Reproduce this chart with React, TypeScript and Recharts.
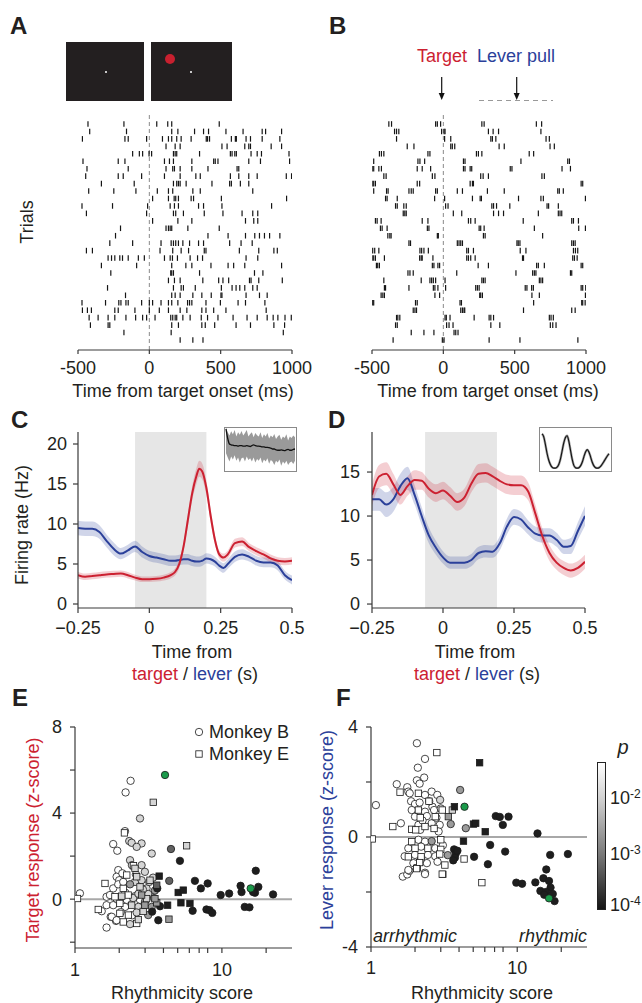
import React from "react";
import {
  Area,
  ComposedChart,
  Line,
  ReferenceArea,
  ReferenceLine,
  Scatter,
  ScatterChart,
  XAxis,
  YAxis,
} from "recharts";

const FONT = '"Liberation Sans", Arial, Helvetica, sans-serif';
const INK = "#231f20";
const RED = "#cc2131";
const BLUE = "#2b409a";
const AXIS = "#3a3a3a";

// ---- rasters (spike times in ms, one list per trial) ----
const rasterTicks = [-500, 0, 500, 1000];

const rasterA: number[][] = [
  [-430, -178, 52, 129, 157, 490],
  [-418, -160, 157, 200, 317, 380, 415, 537, 657, 791, 815, 927],
  [-469, -171, -148, -19, 92, 134, 157, 192, 223, 293, 399, 408, 422, 575, 603, 610, 678, 709, 791, 915],
  [117, 181, 216, 509, 545, 669, 697, 709, 854, 927],
  [-117, -70, -47, -2, 16, 169, 181, 192, 352, 568, 580, 599, 610, 713, 756, 786, 979],
  [-465, -218, -171, 106, 141, 169, 298, 451, 462, 481, 697, 779, 983],
  [-437, -148, 117, 164, 176, 216, 298, 411, 615, 627],
  [-446, -218, -183, -54, 106, 216, 326, 357, 568, 627, 697, 756, 960, 997],
  [-336, -106, 169, 192, 204, 216, 258, 439, 563, 575, 638, 697],
  [-425, -249, -94, 56, 134, 164, 305, 357, 725],
  [23, 134, 174, 185, 204, 293, 310, 505, 962],
  [-472, -258, -12, 146, 176, 204, 345, 380, 509, 857],
  [-441, -19, 169, 185, 239, 385, 516, 650, 725, 760],
  [23, 200, 298, 674, 732, 760],
  [-202, 117, 134, 146, 157, 270, 490],
  [-237, 411, 552, 674, 739, 772, 807, 843, 915],
  [-277, -117, 82, 153, 169, 185, 204, 235, 282, 345, 380, 563, 643, 721],
  [-441, -399, 75, 164, 223, 275, 385, 397, 631, 767, 873, 897],
  [-289, -265, -242, -207, -188, -148, -77, -35, 106, 146, 162, 197, 286, 338, 373, 678, 760],
  [-336, -89, 157, 256, 298, 432, 552, 591, 669, 927],
  [-270, 150, 157, 169, 352, 737, 796],
  [134, 176, 216, 375, 486, 516, 556, 702, 713, 767, 932],
  [-293, 169, 223, 239, 322, 505, 580, 608, 634, 669, 725, 756],
  [-167, 157, 181, 216, 305, 368, 434, 502, 509, 678, 772, 826],
  [-472, -307, -214, -199, -164, -148, -54, 0, 23, 82, 134, 157, 200, 268, 282, 298, 397, 498, 622, 674, 810],
  [-469, -434, -406, -242, -218, -101, 0, 70, 134, 216, 263, 368, 397, 451, 537, 819],
  [-422, -359, -289, -242, -164, -96, -47, -19, 40, 150, 164, 181, 192, 235, 286, 364, 408, 481, 587, 685, 756, 826, 868, 901, 951, 995],
  [-413, -289, -277, 157, 204, 368, 392, 458, 608, 709, 873, 948],
  [-178, 153, 939],
  [216, 305, 376],
];

const rasterB: number[][] = [
  [-382, -363, -54, -42, -19, 270, 286, 652, 689],
  [-342, -328, -312, -12, 5, 12, 316, 349, 387, 684],
  [-328, 9, 52, 333, 344, 368, 720, 743],
  [-253, -206, 52, 63, 80, 391, 427, 748, 778],
  [-448, -434, -417, -108, -94, 232, 246, 270, 602, 633],
  [-488, -178, -164, -131, 141, 152, 544, 872, 884],
  [-499, -488, -452, -434, -183, -148, -89, 141, 152, 188, 199, 469, 481, 832, 891],
  [-417, -401, -77, -59, 262, 279, 316, 691, 708],
  [-499, -488, -476, -183, -166, 188, 204, 211, 966, 977],
  [-488, -398, -387, -241, -225, -211, -54, -42, 98, 134, 309, 427, 802, 813, 841],
  [-405, -394, -323, -61, 9, 204, 258, 267, 527, 684, 701, 996],
  [-335, -323, -277, -260, 16, 33, 340, 352, 373, 466, 727, 738, 806],
  [-281, -270, -260, 70, 129, 352, 387, 422, 666, 806, 818, 830],
  [-476, -464, -436, -148, -108, 176, 192, 223, 560, 900, 912, 947],
  [-441, -429, -394, -112, -101, 251, 262, 286, 638, 949, 996],
  [-389, -375, -366, -42, -35, 281, 293, 696],
  [-241, -230, 98, 110, 122, 134, 516, 525, 537, 900, 912, 924],
  [-495, -481, -452, -164, -152, -136, -105, 164, 176, 211, 539, 579, 912, 926, 942],
  [-499, -488, -476, -413, -166, -155, -148, -73, 164, 176, 192, 223, 555, 562, 907, 919, 938],
  [-469, -460, -448, -77, -66, -38, -26, 244, 316, 654, 666, 708, 966, 977],
  [-248, -234, -211, 94, 509, 626, 638, 649, 891, 900],
  [-417, -155, -94, -82, -70, -54, 12, 270, 281, 293, 673, 684, 696],
  [-413, -405, -241, -70, -59, -38, 16, 227, 239, 251, 574, 586, 619, 631, 966, 977, 998],
  [-436, -424, -413, -59, -26, 255, 262, 274, 621, 673, 996],
  [-495, -488, -195, -183, 117, 127, 633, 970, 977, 994],
  [-211, -199, -188, 122, 134, 145, 150, 562, 900, 924],
  [-328, -319, -305, 12, 21, 47, 216, 321, 333, 352, 743, 755, 771],
  [-335, -323, 23, 40, 68, 333, 396, 750, 767, 790],
  [-225, -136, -66, 75, 87, 103],
  [-352, -7, 5, 321, 537, 943],
];

// ---- PSTHs (firing rate, Hz) ----
const cTime = [-0.25, -0.225, -0.2, -0.175, -0.15, -0.125, -0.1, -0.075, -0.05, -0.025, 0, 0.025, 0.05, 0.075,
  0.09, 0.105, 0.12, 0.135, 0.15, 0.165, 0.175, 0.185, 0.2, 0.215, 0.23, 0.245, 0.26,
  0.275, 0.3, 0.325, 0.35, 0.375, 0.4, 0.425, 0.45, 0.475, 0.5];
const cTarget = [3.6, 3.4, 3.5, 3.6, 3.7, 3.75, 3.8, 3.6, 3.3, 3.1, 3.1, 3.15, 3.3, 3.6,
  4.0, 5.0, 7.2, 10.5, 13.8, 16.0, 16.9, 16.6, 14.5, 11.0, 8.0, 6.2, 5.8,
  6.2, 7.6, 7.8, 7.1, 6.6, 6.2, 5.7, 5.4, 5.3, 5.4];
const cTargetSem = [0.4, 0.4, 0.4, 0.4, 0.4, 0.4, 0.4, 0.4, 0.35, 0.35, 0.35, 0.35, 0.35, 0.4,
  0.45, 0.5, 0.6, 0.8, 0.9, 1.0, 1.0, 1.0, 0.9, 0.8, 0.6, 0.5, 0.5,
  0.5, 0.55, 0.55, 0.5, 0.5, 0.5, 0.5, 0.45, 0.45, 0.45];
const cLever = [9.5, 9.4, 9.4, 9.0, 7.9, 6.9, 6.3, 6.7, 7.2, 6.5, 6.0, 5.8, 5.6, 5.4,
  5.4, 5.5, 5.6, 5.6, 5.4, 5.3, 5.3, 5.4, 5.7, 5.6, 5.3, 4.8, 4.5,
  5.0, 5.9, 6.2, 5.9, 5.4, 5.2, 5.2, 4.8, 3.6, 3.0];
const cLeverSem = [0.9, 0.9, 0.9, 0.85, 0.8, 0.8, 0.7, 0.7, 0.7, 0.7, 0.65, 0.65, 0.65, 0.65,
  0.65, 0.65, 0.65, 0.65, 0.65, 0.65, 0.65, 0.65, 0.65, 0.65, 0.6, 0.6, 0.6,
  0.6, 0.65, 0.65, 0.6, 0.6, 0.6, 0.6, 0.6, 0.55, 0.55];

const dTime = [-0.25, -0.225, -0.2, -0.175, -0.15, -0.125, -0.1, -0.075, -0.05, -0.025, 0, 0.025, 0.05, 0.075, 0.1,
  0.125, 0.15, 0.175, 0.2, 0.225, 0.25, 0.275, 0.3, 0.325, 0.35, 0.375, 0.4, 0.425, 0.45, 0.475, 0.5];
const dTarget = [12.4, 14.5, 14.8, 13.6, 12.4, 13.4, 14.1, 14.0, 13.1, 12.6, 12.9, 12.3, 11.6, 12.1, 13.7,
  14.8, 14.9, 14.5, 14.0, 13.6, 13.5, 13.5, 12.8, 10.3, 7.7, 5.8, 4.7, 4.1, 3.8, 4.1, 4.8];
const dTargetSem = [1.2, 1.3, 1.3, 1.2, 1.1, 1.1, 1.1, 1.0, 1.0, 1.0, 1.0, 1.0, 1.0, 1.0, 1.0,
  1.1, 1.1, 1.1, 1.1, 1.1, 1.1, 1.1, 1.0, 1.0, 0.9, 0.9, 0.8, 0.8, 0.8, 0.8, 0.8];
const dLever = [11.9, 11.9, 11.3, 11.9, 13.4, 14.3, 12.4, 10.0, 7.8, 6.4, 5.3, 4.7, 4.7, 4.7, 5.0,
  5.8, 6.0, 5.95, 6.9, 8.8, 9.9, 9.6, 8.7, 8.0, 7.8, 7.8, 7.3, 6.5, 6.6, 8.3, 10.0];
const dLeverSem = [1.3, 1.3, 1.4, 1.4, 1.4, 1.3, 1.1, 1.0, 0.9, 0.8, 0.7, 0.7, 0.7, 0.7, 0.7,
  0.7, 0.7, 0.7, 0.8, 0.9, 0.9, 0.9, 0.8, 0.8, 0.8, 0.8, 0.8, 0.8, 0.9, 1.0, 1.1];

// ---- insets (autocorrelograms, normalised) ----
const insetCMean = [0.98, 0.75, 0.62, 0.6, 0.59, 0.58, 0.58, 0.57, 0.58, 0.58, 0.57, 0.57, 0.58, 0.57,
  0.56, 0.58, 0.6, 0.58, 0.57, 0.57, 0.56, 0.55, 0.55, 0.54, 0.54, 0.53, 0.52, 0.5,
  0.5, 0.48, 0.47, 0.47, 0.48, 0.47, 0.46, 0.48, 0.49, 0.47, 0.47, 0.49, 0.5];
const insetCHigh = [1.0, 0.9, 0.82, 0.92, 0.85, 0.95, 0.8, 0.9, 0.84, 0.93, 0.82, 0.88, 0.95, 0.8,
  0.86, 0.9, 0.78, 0.88, 0.83, 0.8, 0.9, 0.76, 0.85, 0.8, 0.88, 0.75, 0.82, 0.78,
  0.86, 0.74, 0.8, 0.84, 0.72, 0.8, 0.76, 0.85, 0.7, 0.8, 0.76, 0.82, 0.78];
const insetCLow = [0.4, 0.3, 0.2, 0.32, 0.25, 0.35, 0.22, 0.3, 0.18, 0.28, 0.3, 0.2, 0.32, 0.24,
  0.28, 0.2, 0.3, 0.18, 0.26, 0.22, 0.3, 0.16, 0.25, 0.2, 0.28, 0.15, 0.24, 0.2,
  0.12, 0.22, 0.18, 0.25, 0.1, 0.2, 0.15, 0.22, 0.12, 0.18, 0.2, 0.14, 0.22];
const insetDMean = [0.78, 0.72, 0.55, 0.35, 0.2, 0.1, 0.04, 0.02, 0.02, 0.04, 0.1, 0.22, 0.4, 0.58,
  0.7, 0.74, 0.62, 0.42, 0.22, 0.08, 0.03, 0.02, 0.03, 0.07, 0.15, 0.27, 0.38, 0.43,
  0.38, 0.27, 0.15, 0.07, 0.03, 0.02, 0.03, 0.06, 0.11, 0.17, 0.23, 0.29, 0.34];

// ---- scatter: [rhythmicity score, z-score, log10 p] ----
const W = -1;
const L = -1.8;
const M = -2.5;
const Dk = -3.2;
const K = -4;

const eMonkeyB: [number, number, number][] = [
  [1.08, 0.27, W], [1.64, 0.11, W], [1.52, -0.56, W], [1.64, -1.32, W], [1.75, -0.82, W], [1.9, -1.01, W],
  [1.82, 2.56, W], [1.94, 2.25, W], [2.21, 4.96, W], [2.39, 5.5, W], [2.19, 3.16, W], [2.34, 2.7, L],
  [2.43, 2.62, L], [2.84, 2.59, L], [2.63, 2.43, L], [2.77, 3.75, L], [3.33, 2.12, L], [4.5, 2.33, Dk],
  [5.18, 1.78, K], [4.38, 0.85, Dk], [3.63, 0.5, K], [6.55, 0.85, K], [7.19, 0.5, K], [8.0, 0.73, K],
  [6.32, -0.54, K], [7.85, -0.48, K], [8.25, -0.51, K], [8.6, -0.64, K], [9.81, 0.19, K], [11.2, 0.26, K],
  [13.4, 0.62, K], [13.6, 0.33, K], [17.0, 1.32, K], [17.7, 0.57, K], [16.8, 0.3, K], [16.3, 0.33, K],
  [22.3, 0.22, K], [14.3, -0.36, K], [15.4, -0.38, K], [3.69, -0.98, K], [3.79, -0.33, K], [3.35, -0.58, K],
  [1.97, 1.35, W], [2.37, 1.81, L], [2.44, 1.58, L], [2.84, 1.58, L], [1.92, 1.04, W], [2.0, 0.88, W],
  [2.99, 1.27, L], [1.82, 0.5, W], [2.37, 0.69, M], [3.07, 0.5, L], [1.73, 0.19, W], [2.56, 0.14, L],
  [3.15, 0.24, L], [1.64, -0.28, W], [1.82, -0.28, W], [2.19, -0.36, W], [2.7, -0.36, L], [3.33, -0.36, M],
  [1.78, -0.82, W], [2.63, -0.62, L], [3.15, -0.74, M], [2.37, -1.16, L], [1.92, -0.98, W], [1.97, 0.69, W],
  [2.56, 0.8, L], [2.13, 0.8, W], [2.84, 0.88, L], [2.25, -0.03, W], [2.49, 0.05, L], [2.77, -0.03, W],
  [1.92, 0.02, W], [2.1, 1.2, W], [2.6, 1.15, L], [3.0, -0.1, M], [2.9, 0.45, L], [3.2, 0.8, L],
  [3.45, 0.05, L], [2.05, -0.6, W], [2.45, -0.75, W], [2.2, 0.3, W], [2.7, 0.25, L], [3.4, 1.0, L],
  [3.5, 0.4, M],
];
const eMonkeyE: [number, number, number][] = [
  [1.04, 0.03, W], [1.44, -0.48, W], [2.17, 3.08, W], [3.41, 4.5, L], [5.75, 2.48, L], [3.74, 1.07, K],
  [5.04, 0.31, K], [5.46, 0.42, K], [5.26, -0.17, K], [6.06, -0.2, K], [4.27, -0.28, K], [4.36, -0.93, M],
  [3.6, -0.17, M], [2.56, 1.43, L], [2.25, 1.12, W], [1.6, 0.73, W], [2.63, 1.04, L], [3.24, 0.88, L],
  [2.13, 0.5, W], [2.77, 0.57, L], [1.87, 0.11, W], [2.08, 0.14, L], [2.3, 0.19, W], [2.84, 0.19, M],
  [2.02, -0.2, W], [2.43, -0.28, L], [2.99, -0.28, M], [2.02, -0.66, W], [2.31, -0.74, W], [2.91, -0.57, L],
  [2.13, -1.06, W], [2.63, -1.13, W], [3.6, 0.65, Dk], [3.5, 0.02, M], [3.07, 0.02, L], [2.5, 1.55, W],
  [2.7, -0.95, L],
];
const eExample: [number, number][] = [[4.1, 5.77], [15.7, 0.5]];

const fMonkeyB: [number, number, number][] = [
  [1.08, 1.16, W], [2.06, 3.41, W], [2.34, 2.84, W], [2.09, 2.52, W], [2.31, 2.16, W], [2.06, 2.06, W],
  [2.15, 1.94, W], [1.5, 1.92, W], [1.77, 1.81, W], [1.8, 1.65, W], [1.6, 0.5, W], [4.07, 1.71, M],
  [3.51, 0.47, M], [4.45, 0.32, M], [7.13, 0.76, K], [7.6, 0.73, K], [8.72, 0.74, K], [7.97, 0.44, K],
  [13.76, 0.13, K], [6.53, -0.29, K], [5.07, -0.72, K], [6.3, -0.99, K], [8.27, -0.53, K], [16.8, -0.65, K],
  [22.2, -0.62, K], [15.8, -1.18, K], [9.85, -1.66, K], [10.8, -1.7, K], [13.3, -1.65, K], [15.1, -1.5, K],
  [16.5, -1.6, K], [16.9, -1.84, K], [14.4, -1.96, K], [15.7, -2.0, K], [17.5, -2.07, K], [18.0, -2.33, K],
  [15.3, -2.1, K], [1.65, -1.44, W], [1.77, -1.36, W], [1.83, -1.23, W], [2.34, -1.3, W], [3.7, -0.45, K],
  [3.8, -0.6, K], [3.75, -0.75, K], [3.9, -0.5, K], [3.65, -0.85, K], [3.35, -0.66, M],
  [1.84, 1.59, W], [2.34, 1.53, W], [2.6, 1.65, W], [2.84, 1.53, W], [2.97, 1.35, L], [1.88, 1.3, W],
  [2.0, 1.2, W], [2.15, 1.25, W], [2.63, 1.1, W], [1.9, 0.98, W], [2.34, 0.92, W], [2.7, 0.98, W],
  [3.0, 1.04, L], [2.0, 0.74, W], [2.41, 0.76, W], [2.11, 0.44, W], [2.6, 0.5, W], [2.95, 0.44, W],
  [2.17, 0.26, W], [2.11, -0.1, W], [2.34, -0.17, W], [2.6, -0.15, M], [1.8, -0.41, W], [2.2, -0.35, W],
  [2.75, -0.41, W], [2.0, -0.65, W], [2.45, -0.65, W], [2.75, -0.7, W], [1.95, -0.95, W], [2.41, -0.95, W],
  [2.85, -0.9, W], [1.8, -1.2, W], [2.34, -1.35, W], [2.5, 1.3, W], [2.25, 0.6, W], [2.8, 0.7, W],
  [1.7, -0.7, W], [2.2, -0.8, W], [3.1, -0.3, W], [2.9, 0.2, W],
];
const fMonkeyE: [number, number, number][] = [
  [1.02, -0.07, W], [2.82, 3.07, W], [1.58, 1.63, W], [1.41, 0.38, W], [5.53, 2.7, K], [3.72, 1.1, K],
  [3.6, 0.98, L], [3.38, 0.74, M], [5.02, 0.47, K], [5.2, 0.5, K], [6.04, 0.19, K], [4.29, -0.15, K],
  [4.33, -0.8, W], [5.73, -1.66, W], [3.1, -1.36, W], [2.07, -1.12, W], [2.11, 1.59, W], [2.49, 1.3, W],
  [2.11, 0.98, W], [3.07, 0.98, W], [2.17, 0.7, W], [2.75, 0.74, W], [1.9, 0.28, W], [2.34, 0.38, W],
  [2.7, 0.31, W], [2.02, 0.26, W], [1.9, -0.17, W], [3.0, -0.1, W], [2.0, -0.41, W], [2.45, -0.41, W],
  [3.0, -0.45, W], [1.8, -0.72, W], [2.2, -0.72, W], [2.95, -0.62, W], [2.15, -0.93, W], [3.2, -1.02, W],
  [2.05, -1.15, W], [3.07, -1.35, W],
];
const fExample: [number, number][] = [[4.36, 1.1], [16.5, -2.23]];

const logTicks = [1, 2, 3, 4, 5, 6, 7, 8, 9, 10, 20];

// ---- helpers ----
const tickStyle = { fontSize: 18, fill: INK, fontFamily: FONT };
const axisLine = { stroke: AXIS, strokeWidth: 1.2 };
const tickLine = { stroke: AXIS, strokeWidth: 1.2 };

const rasterPoints = (rows: number[][]) =>
  rows.flatMap((row, i) => row.map((t) => ({ t, trial: i + 1 })));

const psthRows = (time: number[], tgt: number[], tgtSem: number[], lev: number[], levSem: number[]) =>
  time.map((t, i) => ({
    t,
    tgt: tgt[i],
    tgtBand: [tgt[i] - tgtSem[i], tgt[i] + tgtSem[i]],
    lev: lev[i],
    levBand: [lev[i] - levSem[i], lev[i] + levSem[i]],
  }));

const toPoints = (arr: [number, number, number][]) =>
  arr.map(([x, y, logp]) => ({ x, y, logp })).sort((a, b) => b.logp - a.logp);

const pGray = (logp: number) => {
  const f = Math.max(0, Math.min(1, (logp + 4) / 2.7));
  const v = Math.round(30 + 225 * f);
  return `rgb(${v},${v},${v})`;
};

const SpikeTick = (p: any) => (
  <line x1={p.cx} x2={p.cx} y1={p.cy - 2.8} y2={p.cy + 2.8} stroke="#151515" strokeWidth={1.2} />
);
const CircleMark = (p: any) => (
  <circle cx={p.cx} cy={p.cy} r={3.7} fill={pGray(p.payload.logp)} stroke="#1a1a1a" strokeWidth={0.8} />
);
const SquareMark = (p: any) => (
  <rect x={p.cx - 3.2} y={p.cy - 3.2} width={6.4} height={6.4} fill={pGray(p.payload.logp)} stroke="#1a1a1a" strokeWidth={0.8} />
);
const GreenMark = (p: any) => (
  <circle cx={p.cx} cy={p.cy} r={3.7} fill="#1a9a4a" stroke="#1a1a1a" strokeWidth={0.8} />
);

function Txt({ x, y, children, size = 18, color = INK, anchor = "middle", rotate = 0, bold = false, italic = false }: any) {
  const tx = anchor === "middle" ? "-50%" : anchor === "end" ? "-100%" : "0";
  return (
    <div
      style={{
        position: "absolute",
        left: x,
        top: y,
        transform: `translate(${tx}, -50%)${rotate ? ` rotate(${rotate}deg)` : ""}`,
        fontSize: size,
        color,
        fontWeight: bold ? 700 : 400,
        fontStyle: italic ? "italic" : "normal",
        whiteSpace: "nowrap",
        lineHeight: 1,
      }}
    >
      {children}
    </div>
  );
}

function Raster({ rows, left }: { rows: number[][]; left: number }) {
  return (
    <div style={{ position: "absolute", left, top: 105 }}>
      <ScatterChart width={320} height={300} margin={{ top: 9, right: 28, bottom: 25, left: 78 }}>
        <XAxis type="number" dataKey="t" domain={[-500, 1000]} ticks={rasterTicks} allowDataOverflow
          tick={tickStyle} tickSize={4} tickMargin={7} axisLine={axisLine} tickLine={tickLine} height={30} />
        <YAxis type="number" dataKey="trial" domain={[-0.34, 31.34]} reversed hide allowDataOverflow width={0} />
        <ReferenceLine x={0} stroke="#8a8a8a" strokeDasharray="4 3" strokeWidth={1} />
        <Scatter data={rasterPoints(rows)} shape={SpikeTick} isAnimationActive={false} />
      </ScatterChart>
    </div>
  );
}

function Psth({ left, width, marginLeft, marginRight, yWidth, yMargin, yMax, yTicks, rows, shade }: any) {
  return (
    <div style={{ position: "absolute", left, top: 425 }}>
      <ComposedChart width={width} height={220} data={rows}
        margin={{ top: 7, right: marginRight, bottom: 7, left: marginLeft }}>
        <XAxis type="number" dataKey="t" domain={[-0.25, 0.5]} ticks={[-0.25, 0, 0.25, 0.5]} allowDataOverflow
          tickFormatter={(v: number) => (v < 0 ? "\u22120.25" : String(v))}
          tick={tickStyle} tickSize={5} tickMargin={8} axisLine={axisLine} tickLine={tickLine} height={30} />
        <YAxis type="number" domain={[yMax[0], yMax[1]]} ticks={yTicks} allowDataOverflow width={yWidth}
          tick={tickStyle} tickSize={5} tickMargin={yMargin} axisLine={axisLine} tickLine={tickLine} />
        <ReferenceArea x1={shade[0]} x2={shade[1]} fill="#e6e6e6" fillOpacity={1} stroke="none" />
        <Area dataKey="levBand" type="monotone" stroke="none" fill={BLUE} fillOpacity={0.22} isAnimationActive={false} activeDot={false} />
        <Area dataKey="tgtBand" type="monotone" stroke="none" fill={RED} fillOpacity={0.22} isAnimationActive={false} activeDot={false} />
        <Line dataKey="lev" type="monotone" stroke={BLUE} strokeWidth={2} dot={false} activeDot={false} isAnimationActive={false} />
        <Line dataKey="tgt" type="monotone" stroke={RED} strokeWidth={2} dot={false} activeDot={false} isAnimationActive={false} />
      </ComposedChart>
    </div>
  );
}

function InsetC() {
  const rows = insetCMean.map((m, i) => ({ m, band: [insetCLow[i], insetCHigh[i]] }));
  return (
    <div style={{ position: "absolute", left: 224, top: 427, width: 73, height: 45, border: "1px solid #8a8a8a", boxSizing: "border-box" }}>
      <ComposedChart width={71} height={43} data={rows} margin={{ top: 0, right: 1, bottom: 1, left: 1 }}>
        <XAxis hide />
        <YAxis hide domain={[0, 1]} allowDataOverflow />
        <Area dataKey="band" type="linear" stroke="none" fill="#9a9a9a" fillOpacity={1} isAnimationActive={false} activeDot={false} />
        <Line dataKey="m" type="monotone" stroke="#111" strokeWidth={1.3} dot={false} activeDot={false} isAnimationActive={false} />
      </ComposedChart>
    </div>
  );
}

function InsetD() {
  const rows = insetDMean.map((m) => ({ m }));
  return (
    <div style={{ position: "absolute", left: 539, top: 427, width: 73, height: 45, border: "1px solid #8a8a8a", boxSizing: "border-box" }}>
      <ComposedChart width={71} height={43} data={rows} margin={{ top: 5, right: 2, bottom: 2, left: 2 }}>
        <XAxis hide />
        <YAxis hide domain={[0, 0.8]} allowDataOverflow />
        <Line dataKey="m" type="monotone" stroke="#a0a0a0" strokeWidth={2.4} dot={false} activeDot={false} isAnimationActive={false} />
        <Line dataKey="m" type="monotone" stroke="#111" strokeWidth={1.1} dot={false} activeDot={false} isAnimationActive={false} />
      </ComposedChart>
    </div>
  );
}

function RhythmScatter({ left, width, margin, yWidth, yMargin, xMargin, yDomain, yTicks, yLabels, circles, squares, examples }: any) {
  const ex = examples.map(([x, y]: [number, number]) => ({ x, y }));
  return (
    <div style={{ position: "absolute", left, top: 715 }}>
      <ScatterChart width={width} height={288} margin={margin}>
        <XAxis type="number" dataKey="x" scale="log" domain={[1, 30]} ticks={logTicks} allowDataOverflow
          tickFormatter={(v: number) => (v === 1 || v === 10 ? String(v) : "")}
          tick={tickStyle} tickSize={5} tickMargin={xMargin} axisLine={axisLine} tickLine={tickLine} height={30} />
        <YAxis type="number" dataKey="y" domain={yDomain} ticks={yTicks} allowDataOverflow width={yWidth}
          tickFormatter={(v: number) => (yLabels.includes(v) ? String(v) : "")}
          tick={tickStyle} tickSize={5} tickMargin={yMargin} axisLine={axisLine} tickLine={tickLine} />
        <ReferenceLine y={0} stroke="#a8a8a8" strokeWidth={2} />
        <Scatter data={toPoints(circles)} shape={CircleMark} isAnimationActive={false} />
        <Scatter data={toPoints(squares)} shape={SquareMark} isAnimationActive={false} />
        <Scatter data={ex} shape={GreenMark} isAnimationActive={false} />
      </ScatterChart>
    </div>
  );
}

function Screen({ left, red }: { left: number; red?: boolean }) {
  return (
    <div style={{ position: "absolute", left, top: 42, width: red ? 81 : 78, height: 59, background: "#231f20" }}>
      {red && <div style={{ position: "absolute", left: 14, top: 12, width: 10, height: 10, borderRadius: 5, background: "#c8202f" }} />}
      <div style={{ position: "absolute", left: 39, top: 29, width: 2.4, height: 2.4, borderRadius: 2, background: "#fff" }} />
    </div>
  );
}

export default function App() {
  const cRows = psthRows(cTime, cTarget, cTargetSem, cLever, cLeverSem);
  const dRows = psthRows(dTime, dTarget, dTargetSem, dLever, dLeverSem);
  return (
    <div style={{ position: "relative", width: 642, height: 1003, background: "#fff", fontFamily: FONT, overflow: "hidden" }}>
      <style>{"body{margin:0}"}</style>

      {/* panel letters */}
      <Txt x={10} y={26} size={24} bold anchor="start">A</Txt>
      <Txt x={329} y={26} size={24} bold anchor="start">B</Txt>
      <Txt x={11} y={420} size={24} bold anchor="start">C</Txt>
      <Txt x={328} y={420} size={24} bold anchor="start">D</Txt>
      <Txt x={12} y={698} size={24} bold anchor="start">E</Txt>
      <Txt x={336} y={698} size={24} bold anchor="start">F</Txt>

      {/* A */}
      <Screen left={66} />
      <Screen left={151} red />
      <Raster rows={rasterA} left={0} />
      <Txt x={27} y={222} rotate={-90}>Trials</Txt>
      <Txt x={183} y={391}>Time from target onset (ms)</Txt>

      {/* B */}
      <Txt x={442} y={56} color={RED}>Target</Txt>
      <Txt x={516} y={56} color={BLUE}>Lever pull</Txt>
      <svg style={{ position: "absolute", left: 430, top: 70 }} width={140} height={36}>
        <line x1={11.7} x2={11.7} y1={7} y2={24} stroke="#111" strokeWidth={1.2} />
        <polygon points="8.7,23 14.7,23 11.7,30" fill="#111" />
        <line x1={86.7} x2={86.7} y1={7} y2={24} stroke="#111" strokeWidth={1.2} />
        <polygon points="83.7,23 89.7,23 86.7,30" fill="#111" />
        <line x1={49} x2={123} y1={30.5} y2={30.5} stroke="#999" strokeWidth={1.2} strokeDasharray="5 4" />
      </svg>
      <Raster rows={rasterB} left={294} />
      <Txt x={488} y={391}>Time from target onset (ms)</Txt>

      {/* C */}
      <Psth left={0} width={320} marginLeft={28} marginRight={28} yWidth={50} yMargin={6}
        yMax={[-0.5, 21.5]} yTicks={[0, 5, 10, 15, 20]} rows={cRows} shade={[-0.05, 0.2]} />
      <InsetC />
      <Txt x={22} y={525} rotate={-90}>Firing rate (Hz)</Txt>
      <Txt x={192} y={652}>Time from</Txt>
      <Txt x={195} y={674}>
        <span style={{ color: RED }}>target</span> / <span style={{ color: BLUE }}>lever</span> (s)
      </Txt>

      {/* D */}
      <Psth left={320} width={322} marginLeft={12} marginRight={57} yWidth={40} yMargin={7}
        yMax={[-0.45, 19.55]} yTicks={[0, 5, 10, 15]} rows={dRows} shade={[-0.063, 0.19]} />
      <InsetD />
      <Txt x={475} y={652}>Time from</Txt>
      <Txt x={477} y={674}>
        <span style={{ color: RED }}>target</span> / <span style={{ color: BLUE }}>lever</span> (s)
      </Txt>

      {/* E */}
      <RhythmScatter left={0} width={320} margin={{ top: 12, right: 28, bottom: 25, left: 30 }} yWidth={45} yMargin={8}
        xMargin={10} yDomain={[-2.27, 8]} yTicks={[-2, 0, 2, 4, 6, 8]} yLabels={[0, 4, 8]}
        circles={eMonkeyB} squares={eMonkeyE} examples={eExample} />
      <svg style={{ position: "absolute", left: 193, top: 726 }} width={14} height={34}>
        <circle cx={6} cy={6} r={3.7} fill="#fff" stroke="#1a1a1a" strokeWidth={0.8} />
        <rect x={2.8} y={24.8} width={6.4} height={6.4} fill="#fff" stroke="#1a1a1a" strokeWidth={0.8} />
      </svg>
      <Txt x={209} y={732} anchor="start">Monkey B</Txt>
      <Txt x={209} y={754} anchor="start">Monkey E</Txt>
      <Txt x={33} y={840} rotate={-90} color={RED}>Target response (z-score)</Txt>
      <Txt x={182} y={993}>Rhythmicity score</Txt>

      {/* F */}
      <RhythmScatter left={320} width={322} margin={{ top: 12, right: 55, bottom: 26, left: 11 }} yWidth={40} yMargin={8}
        xMargin={9} yDomain={[-4, 4]} yTicks={[-4, -2, 0, 2, 4]} yLabels={[-4, 0, 4]}
        circles={fMonkeyB} squares={fMonkeyE} examples={fExample} />
      <Txt x={327} y={830} rotate={-90} color={BLUE}>Lever response (z-score)</Txt>
      <Txt x={373} y={936} anchor="start" italic>arrhythmic</Txt>
      <Txt x={587} y={936} anchor="end" italic>rhythmic</Txt>
      <Txt x={482} y={993}>Rhythmicity score</Txt>

      {/* p colour bar */}
      <svg style={{ position: "absolute", left: 597, top: 762 }} width={10} height={149}>
        <defs>
          <linearGradient id="pbar" x1="0" y1="0" x2="0" y2="1">
            <stop offset="0" stopColor="#ffffff" />
            <stop offset="0.25" stopColor="#d0d0d0" />
            <stop offset="0.62" stopColor="#7a7a7a" />
            <stop offset="1" stopColor="#141414" />
          </linearGradient>
        </defs>
        <rect x={0.5} y={0.5} width={8} height={147} fill="url(#pbar)" stroke="#222" strokeWidth={1} />
      </svg>
      <Txt x={623} y={747} size={20} italic>p</Txt>
      {[["-2", 797], ["-3", 853], ["-4", 904]].map(([e, y]) => (
        <Txt key={e} x={610} y={y} anchor="start">
          10<sup style={{ fontSize: 12, verticalAlign: "6px" }}>{e}</sup>
        </Txt>
      ))}
    </div>
  );
}
